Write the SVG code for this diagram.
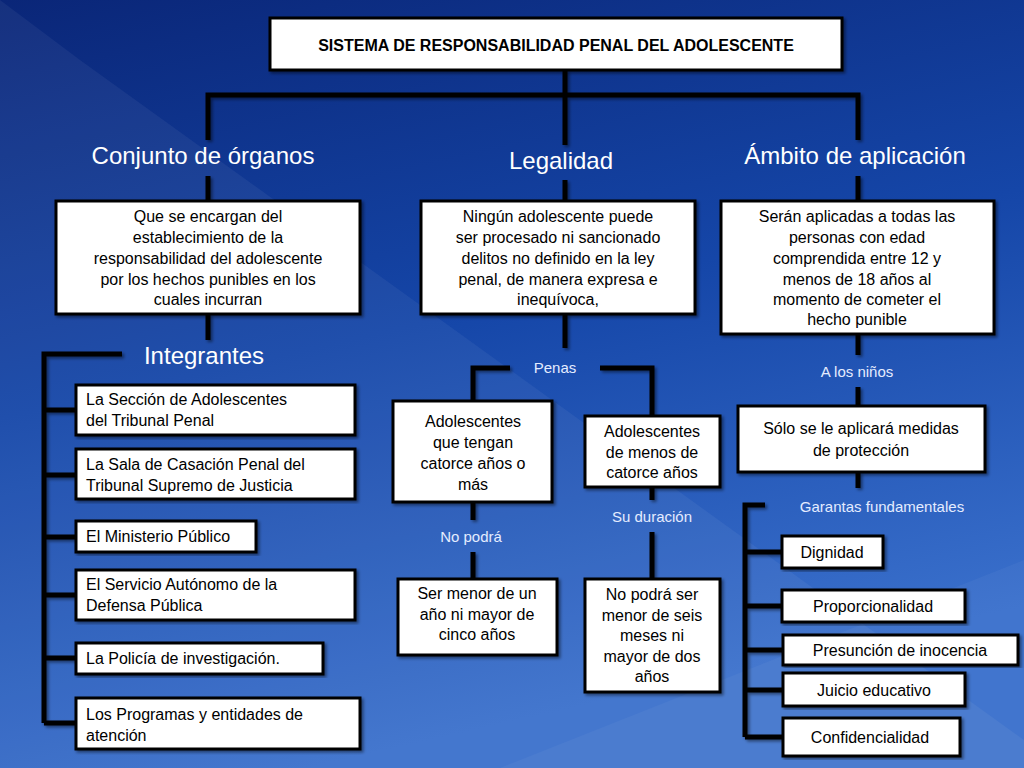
<svg xmlns="http://www.w3.org/2000/svg" width="1024" height="768" viewBox="0 0 1024 768">
<defs>
<linearGradient id="bg" x1="0" y1="0" x2="0.3" y2="1">
<stop offset="0" stop-color="#0a2678"/>
<stop offset="0.5" stop-color="#1546a8"/>
<stop offset="1" stop-color="#3a70cc"/>
</linearGradient>
<filter id="sh" x="-10%" y="-10%" width="120%" height="120%">
<feDropShadow dx="2" dy="2" stdDeviation="1.5" flood-color="#000" flood-opacity="0.45"/>
</filter>
<style>
.c{fill:none;stroke:#000;stroke-width:5;filter:url(#sh)}
.b{fill:#fff;stroke:#000;stroke-width:3;filter:url(#sh)}
text{font-family:"Liberation Sans",Arial,sans-serif;}
.t{font-size:16px;fill:#000;text-anchor:middle}
.l{font-size:16px;fill:#000}
.h{font-size:24px;fill:#fff;text-anchor:middle}
.s{font-size:15px;fill:#e4ecff;text-anchor:middle}
</style>
</defs>
<rect width="1024" height="768" fill="url(#bg)"/>
<polygon points="0,0 0,768 1024,768 1024,740 80,60 0,0" fill="#fff" opacity="0.05"/>
<polygon points="500,768 1024,560 1024,768" fill="#fff" opacity="0.04"/>
<g id="connectors">
<path class="c" d="M565 70V145 M208 140V95H858V140 M208 176V200 M565 180V200 M858 176V200"/>
<path class="c" d="M208 314V340 M122 354H44V723 M44 410H75 M44 475H75 M44 537H75 M44 595H75 M44 658H75 M44 723H75"/>
<path class="c" d="M565 314V348 M510 368H473V400 M600 368H652V415"/>
<path class="c" d="M473 502V520 M473 552V578 M652 487V500 M652 532V578"/>
<path class="c" d="M858 334V355 M858 387V406 M858 472V488 M765 505H745V737 M745 552H782 M745 606H782 M745 650H782 M745 690H782 M745 737H782"/>
</g>
<g id="title"><rect class="b" x="270" y="18" width="572" height="52"/><text x="556" y="51" class="t" font-weight="bold" font-size="16">SISTEMA DE RESPONSABILIDAD PENAL DEL ADOLESCENTE</text></g>
<g id="h1"><text class="h" x="203" y="164">Conjunto de órganos</text></g>
<g id="h2"><text class="h" x="561" y="169">Legalidad</text></g>
<g id="h3"><text class="h" x="855" y="164">Ámbito de aplicación</text></g>
<g id="n1"><rect class="b" x="56" y="201" width="304" height="113"/><text class="t" x="208"><tspan x="208" y="222">Que se encargan del</tspan><tspan x="208" y="243">establecimiento de la</tspan><tspan x="208" y="264">responsabilidad del adolescente</tspan><tspan x="208" y="285">por los hechos  punibles en los</tspan><tspan x="208" y="305">cuales incurran</tspan></text></g>
<g id="n2"><rect class="b" x="421" y="201" width="274" height="113"/><text class="t"><tspan x="558" y="222">Ningún adolescente puede</tspan><tspan x="558" y="243">ser procesado ni sancionado</tspan><tspan x="558" y="264">delitos no definido en la ley</tspan><tspan x="558" y="285">penal, de manera expresa e</tspan><tspan x="558" y="305">inequívoca,</tspan></text></g>
<g id="n3"><rect class="b" x="721" y="201" width="273" height="133"/><text class="t"><tspan x="857" y="222">Serán aplicadas a todas las</tspan><tspan x="857" y="243">personas con edad</tspan><tspan x="857" y="264">comprendida entre 12 y</tspan><tspan x="857" y="285">menos de 18 años al</tspan><tspan x="857" y="305">momento de cometer el</tspan><tspan x="857" y="325">hecho punible</tspan></text></g>
<g id="integrantes"><text class="h" x="204" y="364">Integrantes</text></g>
<g id="i1"><rect class="b" x="76" y="385" width="279" height="50"/><text class="l"><tspan x="86" y="405">La Sección de Adolescentes</tspan><tspan x="86" y="426">del Tribunal Penal</tspan></text></g>
<g id="i2"><rect class="b" x="76" y="449" width="279" height="50"/><text class="l"><tspan x="86" y="470">La Sala de Casación Penal del</tspan><tspan x="86" y="491">Tribunal Supremo de Justicia</tspan></text></g>
<g id="i3"><rect class="b" x="76" y="521" width="180" height="31"/><text class="l" x="86" y="542">El Ministerio Público</text></g>
<g id="i4"><rect class="b" x="76" y="570" width="279" height="50"/><text class="l"><tspan x="86" y="590">El Servicio Autónomo de la</tspan><tspan x="86" y="611">Defensa Pública</tspan></text></g>
<g id="i5"><rect class="b" x="76" y="643" width="247" height="31"/><text class="l" x="86" y="664">La Policía de investigación.</text></g>
<g id="i6"><rect class="b" x="76" y="698" width="284" height="51"/><text class="l"><tspan x="86" y="720">Los Programas y entidades de</tspan><tspan x="86" y="741">atención</tspan></text></g>
<g id="penas"><text class="s" x="555" y="373">Penas</text></g>
<g id="pa"><rect class="b" x="393" y="401" width="159" height="101"/><text class="t"><tspan x="473" y="427">Adolescentes</tspan><tspan x="473" y="448">que tengan</tspan><tspan x="473" y="469">catorce años o</tspan><tspan x="473" y="490">más</tspan></text></g>
<g id="pb"><rect class="b" x="585" y="416" width="135" height="71"/><text class="t"><tspan x="652" y="437">Adolescentes</tspan><tspan x="652" y="458">de menos de</tspan><tspan x="652" y="478">catorce años</tspan></text></g>
<g id="nopodra"><text class="s" x="471" y="542">No podrá</text></g>
<g id="duracion"><text class="s" x="652" y="522">Su duración</text></g>
<g id="pc"><rect class="b" x="398" y="579" width="159" height="76"/><text class="t"><tspan x="477" y="599">Ser menor de un</tspan><tspan x="477" y="620">año ni mayor de</tspan><tspan x="477" y="640">cinco años</tspan></text></g>
<g id="pd"><rect class="b" x="585" y="579" width="135" height="113"/><text class="t"><tspan x="652" y="600">No podrá ser</tspan><tspan x="652" y="621">menor de seis</tspan><tspan x="652" y="641">meses ni</tspan><tspan x="652" y="662">mayor de dos</tspan><tspan x="652" y="682">años</tspan></text></g>
<g id="ninos"><text class="s" x="857" y="377">A los niños</text></g>
<g id="proteccion"><rect class="b" x="738" y="406" width="247" height="66"/><text class="t"><tspan x="861" y="434">Sólo se le aplicará medidas</tspan><tspan x="861" y="456">de protección</tspan></text></g>
<g id="garantias"><text class="s" x="882" y="512">Garantas fundamentales</text></g>
<g id="g1"><rect class="b" x="782" y="536" width="101" height="32"/><text class="t" x="832" y="558">Dignidad</text></g>
<g id="g2"><rect class="b" x="782" y="590" width="183" height="32"/><text class="t" x="873" y="612">Proporcionalidad</text></g>
<g id="g3"><rect class="b" x="783" y="635" width="235" height="30"/><text class="t" x="900" y="656">Presunción de inocencia</text></g>
<g id="g4"><rect class="b" x="783" y="673" width="182" height="33"/><text class="t" x="874" y="696">Juicio educativo</text></g>
<g id="g5"><rect class="b" x="783" y="718" width="177" height="38"/><text class="t" x="870" y="743">Confidencialidad</text></g>
</svg>
